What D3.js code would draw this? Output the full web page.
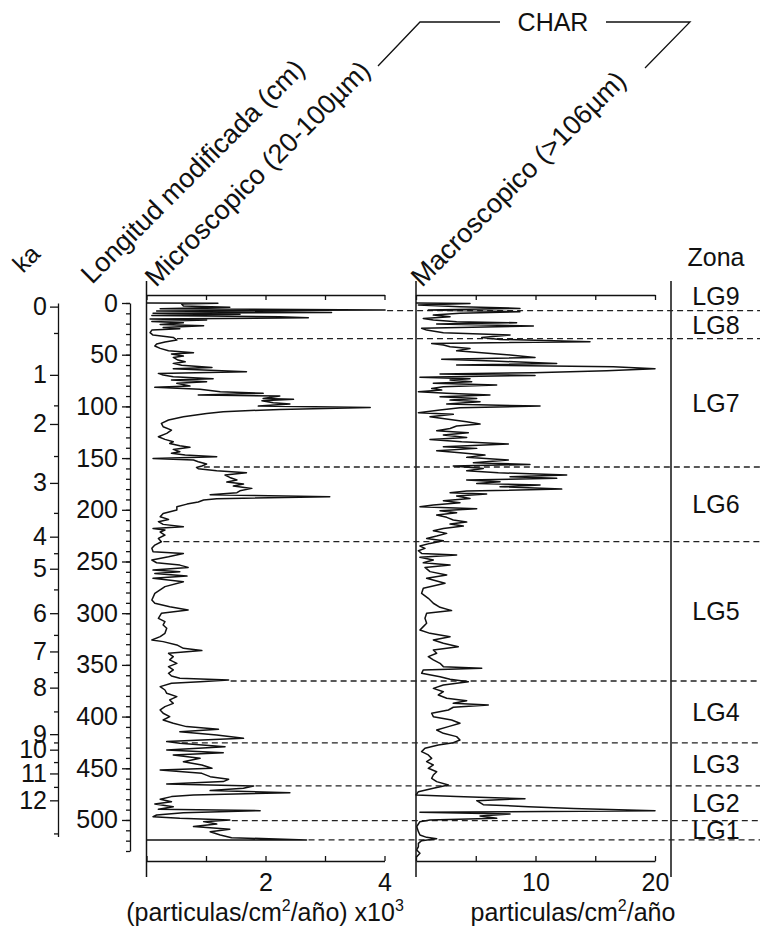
<!DOCTYPE html>
<meta charset="utf-8">
<title>CHAR - Longitud modificada</title>
<style>
  body { margin: 0; background: #fff; }
  svg { font-family: Arial, "Liberation Sans", sans-serif; }
  text { fill: #111; }
  .trace { fill: none; stroke: #111; stroke-width: 1.5; stroke-linejoin: round; }
  .axis path, .axis line { stroke: #111; stroke-width: 1.3; }
  .axis text { fill: #111; }
  .zone { stroke: #222; stroke-width: 1.3; stroke-dasharray: 6,4; }
  .frame { stroke: #111; stroke-width: 1.5; }
</style>
<body>
<div id="chart"></div>
<script src="https://d3js.org/d3.v7.min.js"></script>
<script>

// micro charcoal (20-100um), [depth cm, particulas/cm2/año x10^3]
const microChar = [[0,0],[0.2,1.2],[1.0,0.59],[2.9,0.62],[4.2,1.40],[5.5,0.23],[6.8,4.01],[7.8,0.17],[9.1,3.11],[10.0,0.11],
  [11.0,1.57],[12.0,0.09],[13.3,2.24],[14.2,2.72],[15.5,0.06],[16.5,1.01],[17.8,0.09],[19.1,0.62],[20.7,0.23],[22.0,0.96],
  [23.6,0.28],[24.9,0.56],[26.2,0.09],[28.7,0.06],[31.0,0.11],[33.3,0.45],[35.8,0.51],[37.8,0.31],[39.7,0.17],[41.6,0.14],
  [43.9,0.23],[46.2,0.37],[48.1,0.79],[49.4,0.42],[51.3,0.62],[52.6,0.45],[55.2,0.53],[56.8,0.65],[58.4,0.45],[60.3,0.59],
  [62.3,1.10],[63.6,0.45],[64.8,0.96],[66.5,1.68],[68.1,0.20],[69.7,0.28],[71.3,0.45],[73.2,1.12],[74.5,0.42],[76.1,1.01],
  [77.7,0.51],[80.3,0.73],[81.6,0.14],[83.5,0.90],[85.8,1.24],[87.4,1.96],[89.0,0.87],[90.0,2.24],[92.3,1.96],[93.2,2.47],
  [94.5,1.94],[96.4,2.13],[97.7,2.41],[99.7,1.88],[101.0,3.76],[102.9,2.24],[105.1,1.29],[106.8,1.01],[110.0,0.62],[113.2,0.37],
  [116.4,0.25],[119.7,0.28],[122.9,0.42],[126.1,0.34],[129.3,0.20],[131.9,0.31],[134.2,0.45],[135.8,0.39],[138.0,0.56],[139.6,0.73],
  [141.6,0.45],[143.8,0.56],[145.4,0.42],[147.1,0.65],[148.7,1.18],[150.3,0.11],[151.9,0.79],[153.5,0.87],[155.8,1.01],[157.7,0.93],
  [159.0,0.84],[160.3,0.87],[162.2,1.18],[164.2,1.68],[166.4,1.32],[168.7,1.40],[171.2,1.52],[173.2,1.35],[175.1,1.63],[177.0,1.46],
  [179.3,1.77],[181.6,1.57],[183.5,1.52],[185.4,1.07],[187.4,3.08],[189.3,1.18],[190.6,0.96],[192.5,0.87],[194.5,0.68],[197.0,0.51],
  [200.3,0.51],[203.5,0.28],[206.7,0.23],[209.3,0.37],[211.5,0.20],[214.1,0.28],[216.4,0.62],[218.0,0.11],[219.6,0.31],[221.5,0.23],
  [224.4,0.31],[227.7,0.20],[230.9,0.25],[234.1,0.14],[237.3,0.09],[240.6,0.11],[242.2,0.62],[245.4,0.37],[248.6,0.09],[251.2,0.17],
  [253.5,0.56],[255.7,0.70],[258.3,0.11],[259.9,0.56],[261.5,0.14],[264.1,0.68],[266.3,0.11],[269.5,0.62],[274.3,0.31],[280.8,0.14],
  [287.2,0.09],[290.4,0.14],[293.7,0.39],[296.9,0.70],[300.1,0.25],[305.0,0.20],[308.2,0.31],[311.4,0.28],[314.6,0.34],[319.5,0.31],
  [322.7,0.23],[325.9,0.09],[327.5,0.28],[330.7,0.51],[334.0,0.62],[336.2,0.93],[338.8,0.37],[342.0,0.45],[345.2,0.39],[348.5,0.51],
  [351.7,0.37],[354.9,0.45],[358.1,0.37],[360.7,0.42],[363.0,0.56],[364.6,1.38],[366.2,0.90],[367.8,0.42],[371.0,0.23],[374.3,0.31],
  [377.5,0.34],[380.7,0.51],[383.9,0.39],[387.2,0.45],[390.4,0.31],[393.6,0.23],[396.8,0.28],[400.1,0.39],[403.3,0.28],[406.5,0.45],
  [409.7,0.67],[412.3,1.21],[414.6,0.56],[417.8,1.18],[421.0,1.63],[424.2,0.34],[425.8,0.56],[429.1,1.32],[432.3,0.34],[434.9,1.29],
  [437.1,0.45],[440.4,0.90],[443.6,0.62],[446.8,0.93],[450.0,1.10],[451.6,0.23],[454.9,0.93],[458.1,1.07],[460.7,1.38],[462.9,1.29],
  [465.2,0.34],[467.1,1.80],[469.4,1.63],[471.6,1.07],[473.6,2.41],[475.8,0.79],[477.4,0.42],[480.0,0.23],[482.3,0.42],[484.5,0.14],
  [487.1,0.45],[489.7,0.20],[491.0,1.91],[492.9,0.62],[495.2,0.17],[496.8,0.11],[498.4,0.56],[500.0,1.40],[501.6,0.96],[503.9,1.18],
  [506.4,0.79],[509.0,1.40],[511.3,1.07],[514.5,1.24],[517.1,1.43],[519.3,2.69],[519.4,0]];

// macro charcoal (>106um), [depth cm, particulas/cm2/año]
const macroChar = [[0,0],[0.4,4.52],[2.0,0.20],[3.6,3.68],[5.2,8.70],[6.8,1.03],[8.4,8.70],[10.0,3.68],[11.7,1.45],[13.3,2.85],
  [14.9,0.61],[16.5,1.45],[18.1,3.40],[19.1,8.42],[20.4,1.73],[22.3,9.82],[24.5,0.47],[26.2,0.89],[28.7,2.29],[31.0,7.87],
  [33.3,5.50],[35.2,7.03],[37.4,14.56],[39.1,1.31],[40.7,2.29],[42.3,2.85],[43.9,4.52],[46.2,3.40],[48.1,5.50],[50.3,7.87],
  [52.6,9.96],[54.5,2.15],[56.1,6.47],[58.4,11.77],[60.0,3.40],[61.6,16.51],[63.6,20.0],[65.5,15.96],[67.4,9.82],[68.7,2.01],
  [70.0,9.96],[71.9,0.33],[73.2,4.52],[74.5,2.85],[76.1,4.66],[77.7,1.45],[79.4,6.75],[81.0,2.29],[82.6,1.31],[84.2,2.15],
  [85.8,0.20],[87.4,2.57],[89.0,6.19],[90.6,2.01],[92.3,5.08],[93.9,2.85],[95.5,5.36],[97.7,2.57],[99.7,10.38],[101.3,3.68],
  [103.5,2.01],[106.1,0.20],[107.7,3.12],[110.0,1.17],[112.6,2.85],[114.8,4.24],[117.1,5.36],[119.0,3.40],[121.3,2.85],[123.5,1.73],
  [125.5,4.38],[127.7,2.29],[130.0,4.24],[131.9,1.17],[134.2,3.82],[136.4,7.73],[139.0,2.29],[140.6,5.08],[142.9,1.73],[144.8,3.68],
  [147.1,5.77],[149.3,4.24],[151.9,7.73],[154.5,4.80],[156.1,9.54],[157.7,3.12],[160.0,5.63],[162.2,4.24],[164.2,6.89],[166.4,12.61],
  [168.0,7.87],[169.6,11.77],[171.2,4.24],[172.9,7.03],[174.5,5.08],[176.1,10.38],[177.7,7.03],[180.0,12.19],[181.9,4.24],[183.5,2.85],
  [184.8,5.91],[186.7,3.40],[189.0,4.52],[191.2,2.29],[193.2,3.68],[195.4,1.45],[197.0,0.33],[199.0,5.08],[200.9,2.01],[202.8,3.40],
  [205.1,1.73],[207.3,2.57],[209.9,3.12],[211.9,4.24],[213.8,2.85],[215.7,3.96],[218.0,2.29],[220.2,1.45],[222.8,2.57],[225.4,1.73],
  [227.7,0.89],[229.9,2.29],[232.5,1.17],[235.1,0.33],[237.3,0.75],[239.6,0.20],[242.2,0.47],[243.8,3.40],[246.0,0.33],[248.6,1.45],
  [251.2,0.61],[253.5,2.85],[255.7,0.75],[259.8,1.17],[263.0,2.57],[266.3,0.89],[271.1,2.43],[275.9,0.61],[280.8,0.47],[285.6,1.03],
  [290.4,1.45],[294.3,2.01],[297.5,2.98],[300.1,0.89],[305.0,0.75],[309.8,0.89],[313.0,0.61],[316.2,0.33],[319.5,1.17],[322.7,2.85],
  [325.9,1.45],[329.1,2.29],[332.4,3.54],[335.6,1.45],[338.8,1.73],[342.0,1.03],[345.2,1.45],[348.5,2.01],[351.7,2.29],[353.3,5.50],
  [354.9,0.61],[358.1,0.47],[361.4,2.01],[363.9,2.85],[366.2,4.38],[369.4,2.29],[372.7,1.45],[375.9,2.29],[379.1,1.87],[382.3,2.57],
  [384.6,4.24],[387.2,3.12],[388.8,6.05],[391.0,3.12],[393.6,2.71],[396.8,1.31],[400.1,1.45],[403.3,2.98],[406.5,3.68],[409.7,2.71],
  [413.0,1.73],[416.2,2.29],[419.4,3.40],[422.6,3.68],[425.2,3.12],[427.5,1.87],[430.7,0.75],[433.9,0.47],[437.1,1.03],[440.4,1.31],
  [443.6,0.89],[446.8,1.45],[450.0,1.03],[453.3,1.73],[456.5,1.45],[459.7,1.31],[462.9,1.73],[466.2,2.71],[469.4,1.45],[472.6,0.20],
  [475.8,0.0],[477.4,3.40],[479.4,9.12],[481.3,5.08],[483.2,5.36],[485.2,5.63],[487.1,9.40],[489.0,13.17],[491.0,20.0],[492.6,0.33],
  [494.2,7.87],[496.1,5.36],[498.4,6.75],[500.0,1.17],[501.6,0.33],[503.9,0.20],[506.4,0.06],[511.3,0.20],[514.5,0.33],[516.8,0.89],
  [518.1,1.73],[520.0,0.47],[522.6,0.20],[525.8,0.20],[529.0,0.06],[532.2,0.33],[535.5,0.06]];

// depth axis (cm)
const depthLabels = [0, 50, 100, 150, 200, 250, 300, 350, 400, 450, 500];
// age axis: ka label and the depth (cm) where it sits
const kaLabels = ["0", "1", "2", "3", "4", "5", "6", "7", "8", "9", "10", "11", "12"];
const kaDepth = [3.5, 69.5, 117, 174, 226, 257, 300, 337, 372, 417, 432, 455, 481];
const kaMinorDepth = [29, 99, 148, 203, 242, 277, 321, 357, 395, 425, 444, 468, 513];

// zones
const zoneNames = ["LG9", "LG8", "LG7", "LG6", "LG5", "LG4", "LG3", "LG2", "LG1"];
const zoneLimits = [-20, 7.4, 34.5, 158.6, 230.8, 365.6, 425.5, 467, 500.7, 519.3];

const microTicks = [0, 1, 2, 3, 4];
const macroTicks = [0, 5, 10, 15, 20];

const W = 760, H = 937, FS = 25, HFS = 27;

const svg = d3.select("#chart").append("svg")
  .attr("width", W).attr("height", H);

const y = d3.scaleLinear().domain([0, 530]).range([303, 851]);
const xMicro = d3.scaleLinear().domain([0, 4]).range([146.5, 384.5]);
const xMacro = d3.scaleLinear().domain([0, 20]).range([416, 655]);

const topY = 295, botY = 861, zonaX = 671;

// ---- ka axis
const yKa = y.copy().domain([0, 516]).range([y(0), y(516)]);
svg.append("g").attr("class", "axis")
  .attr("transform", "translate(58,0)")
  .call(d3.axisLeft(yKa).tickValues(kaMinorDepth).tickSize(4).tickSizeOuter(0).tickFormat(""));
svg.append("g").attr("class", "axis")
  .attr("transform", "translate(58,0)")
  .call(d3.axisLeft(yKa).tickValues(kaDepth).tickSize(8).tickSizeOuter(0).tickPadding(3)
    .tickFormat((d, i) => kaLabels[i]))
  .call(g => g.select(".domain").remove())
  .selectAll("text").attr("font-size", FS).attr("font-family", null);

// ---- depth axis
svg.append("g").attr("class", "axis")
  .attr("transform", "translate(130,0)")
  .call(d3.axisLeft(y).tickValues(d3.range(0, 531, 10)).tickSize(4).tickSizeOuter(0).tickFormat(""));
svg.append("g").attr("class", "axis")
  .attr("transform", "translate(130,0)")
  .call(d3.axisLeft(y).tickValues(depthLabels).tickSize(8).tickPadding(4))
  .call(g => g.select(".domain").remove())
  .selectAll("text").attr("font-size", FS).attr("font-family", null);

// ---- panel frames and x axes
function panel(x, ticks, labelled) {
  svg.append("line").attr("class", "frame")
    .attr("x1", x.range()[0]).attr("x2", x.range()[0]).attr("y1", 281).attr("y2", 877);
  svg.append("g").attr("class", "axis")
    .attr("transform", `translate(0,${topY})`)
    .call(d3.axisBottom(x).tickValues(ticks).tickSize(5).tickSizeOuter(0).tickFormat(""));
  svg.append("g").attr("class", "axis")
    .attr("transform", `translate(0,${botY})`)
    .call(d3.axisBottom(x).tickValues(ticks).tickSize(-5).tickSizeOuter(0).tickPadding(12)
      .tickFormat(d => labelled.includes(d) ? d : ""))
    .selectAll("text").attr("font-size", FS).attr("font-family", null);
}
panel(xMicro, microTicks, [2, 4]);
panel(xMacro, macroTicks, [10, 20]);

svg.append("line").attr("class", "frame")
  .attr("x1", zonaX).attr("x2", zonaX).attr("y1", 281).attr("y2", 877);

// ---- zone boundaries (dashed), starting right of the micro trace
function localMax(series, d) {
  const near = series.filter(p => Math.abs(p[0] - d) <= 1).map(p => p[1]);
  const i = d3.bisector(p => p[0]).left(series, d);
  const a = series[Math.max(i - 1, 0)], b = series[Math.min(i, series.length - 1)];
  const t = b[0] === a[0] ? 0 : (d - a[0]) / (b[0] - a[0]);
  return Math.max(a[1] + t * (b[1] - a[1]), ...near);
}
svg.append("g").selectAll("line")
  .data(zoneLimits.slice(1))
  .join("line")
  .attr("class", "zone")
  .attr("x1", d => xMicro(localMax(microChar, d)) + 2)
  .attr("x2", W)
  .attr("y1", d => y(d)).attr("y2", d => y(d));

// ---- traces
const line = x => d3.line().x(p => x(p[1])).y(p => y(p[0]));
svg.append("path").attr("class", "trace").attr("d", line(xMicro)(microChar));
svg.append("path").attr("class", "trace").attr("d", line(xMacro)(macroChar));

// ---- zone labels
svg.append("text").attr("x", 716).attr("y", 266).attr("text-anchor", "middle")
  .attr("font-size", FS).text("Zona");
svg.append("g").selectAll("text")
  .data(zoneNames)
  .join("text")
  .attr("x", 716)
  .attr("y", (d, i) => y((zoneLimits[i] + zoneLimits[i + 1]) / 2))
  .attr("dy", "0.36em")
  .attr("text-anchor", "middle")
  .attr("font-size", FS)
  .text(d => d);

// ---- rotated headers
const heads = [
  {t: "ka", x: 23, y: 274},
  {t: "Longitud modificada (cm)", x: 92, y: 285},
  {t: "Microscopico (20-100\u00b5m)", x: 156, y: 288},
  {t: "Macroscopico (>106\u00b5m)", x: 422, y: 288}
];
svg.append("g").selectAll("text")
  .data(heads)
  .join("text")
  .attr("transform", d => `translate(${d.x},${d.y}) rotate(-45)`)
  .attr("font-size", (d, i) => i === 0 ? FS : HFS)
  .text(d => d.t);

// CHAR bracket
svg.append("path")
  .attr("d", "M378,66 L420,22 L500,22 M606,22 L690,22 L645,68")
  .attr("fill", "none").attr("stroke", "#111").attr("stroke-width", 1.3);
svg.append("text").attr("x", 553).attr("y", 31).attr("text-anchor", "middle")
  .attr("font-size", FS).text("CHAR");

// ---- unit labels
const u1 = svg.append("text").attr("x", 265).attr("y", 921).attr("text-anchor", "middle").attr("font-size", FS);
u1.append("tspan").text("(particulas/cm");
u1.append("tspan").attr("font-size", 16).attr("dy", -10).text("2");
u1.append("tspan").attr("dy", 10).text("/año) x10");
u1.append("tspan").attr("font-size", 16).attr("dy", -10).text("3");

const u2 = svg.append("text").attr("x", 573).attr("y", 921).attr("text-anchor", "middle").attr("font-size", FS);
u2.append("tspan").text("particulas/cm");
u2.append("tspan").attr("font-size", 16).attr("dy", -10).text("2");
u2.append("tspan").attr("dy", 10).text("/año");

</script>
</body>
